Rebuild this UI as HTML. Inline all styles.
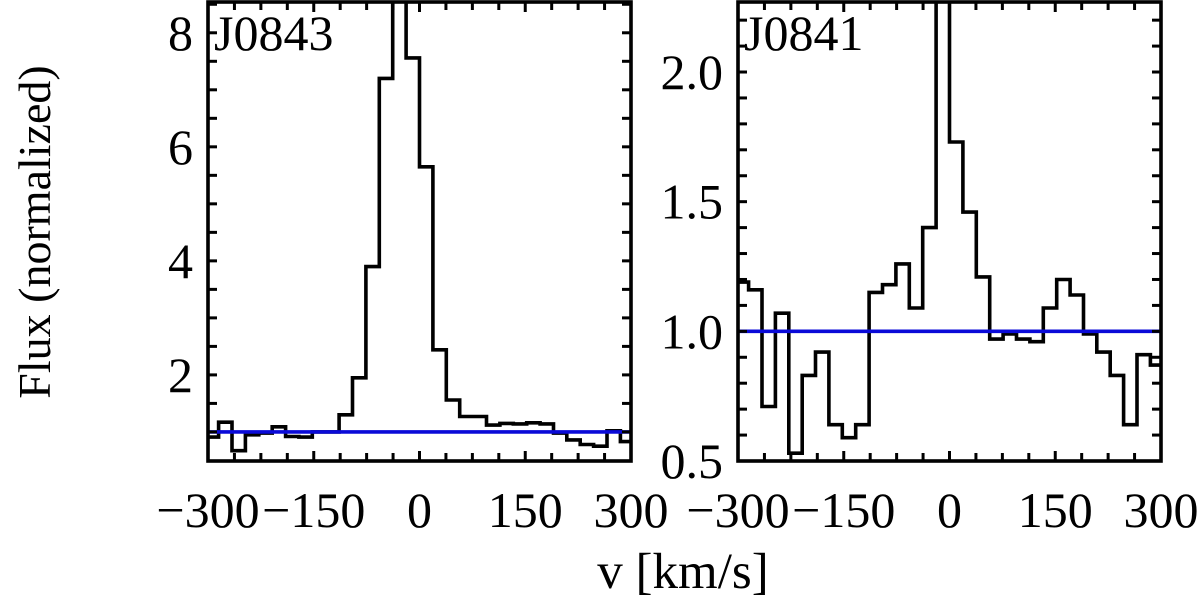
<!DOCTYPE html>
<html><head><meta charset="utf-8">
<style>
html,body{margin:0;padding:0;background:#fff;}
svg{display:block;font-family:"Liberation Serif",serif;}
</style></head>
<body>
<svg id="chart" width="1200" height="598" viewBox="0 0 1200 598">
<text x="0" y="0" font-size="46" text-anchor="middle" transform="translate(50,232) rotate(-90)">Flux (normalized)</text>
<text x="683" y="588" font-size="51" text-anchor="middle">v [km/s]</text>
</svg>
<script>
// bin edges start at -304 km/s, width 19 km/s
const binStart = -304;
const binWidth = 19;
const fluxJ0843 = [0.91,1.17,0.67,0.95,0.98,1.09,0.92,0.91,1.0,1.0,1.30,1.95,3.90,7.2,12,7.56,5.65,2.44,1.56,1.27,1.27,1.12,1.15,1.14,1.16,1.14,0.98,0.86,0.78,0.75,1.02,0.83];
const fluxJ0841 = [1.19,1.16,0.71,1.07,0.53,0.83,0.92,0.64,0.59,0.64,1.15,1.18,1.26,1.09,1.40,2.6,1.73,1.46,1.21,0.97,0.99,0.97,0.96,1.09,1.20,1.14,0.99,0.92,0.83,0.64,0.91,0.87];
const continuumLevel = 1.0;
const xTicks = [-300,-150,0,150,300];
const yTicksJ0843 = [2,4,6,8];
const yTicksJ0841 = [0.5,1.0,1.5,2.0];

const NS = "http://www.w3.org/2000/svg";
const svg = document.getElementById('chart');
function mk(tag, attrs, parent){const e=document.createElementNS(NS,tag);for(const k in attrs)e.setAttribute(k,attrs[k]);(parent||svg).appendChild(e);return e;}

function panel(opt){
  const L=opt.left,R=opt.left+423,T=2,B=461;
  const g=mk('g',{});
  
  
  const xs=v=>L+(v+300)/600*(R-L);
  const ys=v=>B-(v-opt.ymin)/(opt.ymax-opt.ymin)*(B-T);
  const clip=mk('clipPath',{id:'clip'+opt.id},g);
  mk('rect',{x:L,y:T,width:R-L,height:B-T},clip);
  let d='';
  opt.data.forEach((v,i)=>{
    const x0=Math.max(-300,binStart+i*binWidth), x1=Math.min(300,binStart+(i+1)*binWidth);
    d+=(i===0?'M':'L')+xs(x0).toFixed(1)+' '+ys(v).toFixed(1)+' L'+xs(x1).toFixed(1)+' '+ys(v).toFixed(1)+' ';
  });
  const p=mk('path',{d:d,fill:'none',stroke:'#000','stroke-width':3.6,'clip-path':'url(#clip'+opt.id+')'},g);
  
  
  const c=mk('line',{x1:L,x2:R,y1:ys(continuumLevel),y2:ys(continuumLevel),stroke:'#0a0ad8','stroke-width':3.6},g);
  
  
  for(let v=-300;v<=300;v+=37.5){
    const major=(v%150===0);const len=major?10:8;const x=xs(v);
    mk('line',{x1:x,x2:x,y1:B,y2:B-len,stroke:'#000','stroke-width':3},g);
    mk('line',{x1:x,x2:x,y1:T,y2:T+len,stroke:'#000','stroke-width':3},g);
  }
  for(let v=opt.minorStart;v<=opt.ymax+1e-9;v+=opt.minorStep){
    const y=ys(v);if(y<T+1||y>B-1)continue;
    mk('line',{x1:L,x2:L+9,y1:y,y2:y,stroke:'#000','stroke-width':3},g);
    mk('line',{x1:R,x2:R-9,y1:y,y2:y,stroke:'#000','stroke-width':3},g);
  }
  const fr=mk('rect',{x:L,y:T,width:R-L,height:B-T,fill:'none',stroke:'#000','stroke-width':3.6},g);
  
  
  xTicks.forEach(v=>{
    const t=mk('text',{x:xs(v),y:527,'font-size':50,'text-anchor':'middle'},g);
    t.textContent=(v<0?'\u2212':'')+Math.abs(v);
    
    
  });
  opt.yticks.forEach(v=>{
    const t=mk('text',{x:L-15,y:ys(v)+17,'font-size':50,'text-anchor':'end'},g);
    t.textContent=opt.fmt(v);
    
    
  });
  const lab=mk('text',{x:L+6,y:50,'font-size':50},g);
  lab.textContent=opt.label;
  
  
}
panel({id:1,name:'panel-j0843',left:208,ymin:0.49,ymax:8.54,data:fluxJ0843,yticks:yTicksJ0843,fmt:v=>String(v),label:'J0843',minorStart:0.5,minorStep:0.5});
panel({id:2,name:'panel-j0841',left:738,ymin:0.5,ymax:2.27,data:fluxJ0841,yticks:yTicksJ0841,fmt:v=>v.toFixed(1),label:'J0841',minorStart:0.5,minorStep:0.1});
</script>
</body></html>
